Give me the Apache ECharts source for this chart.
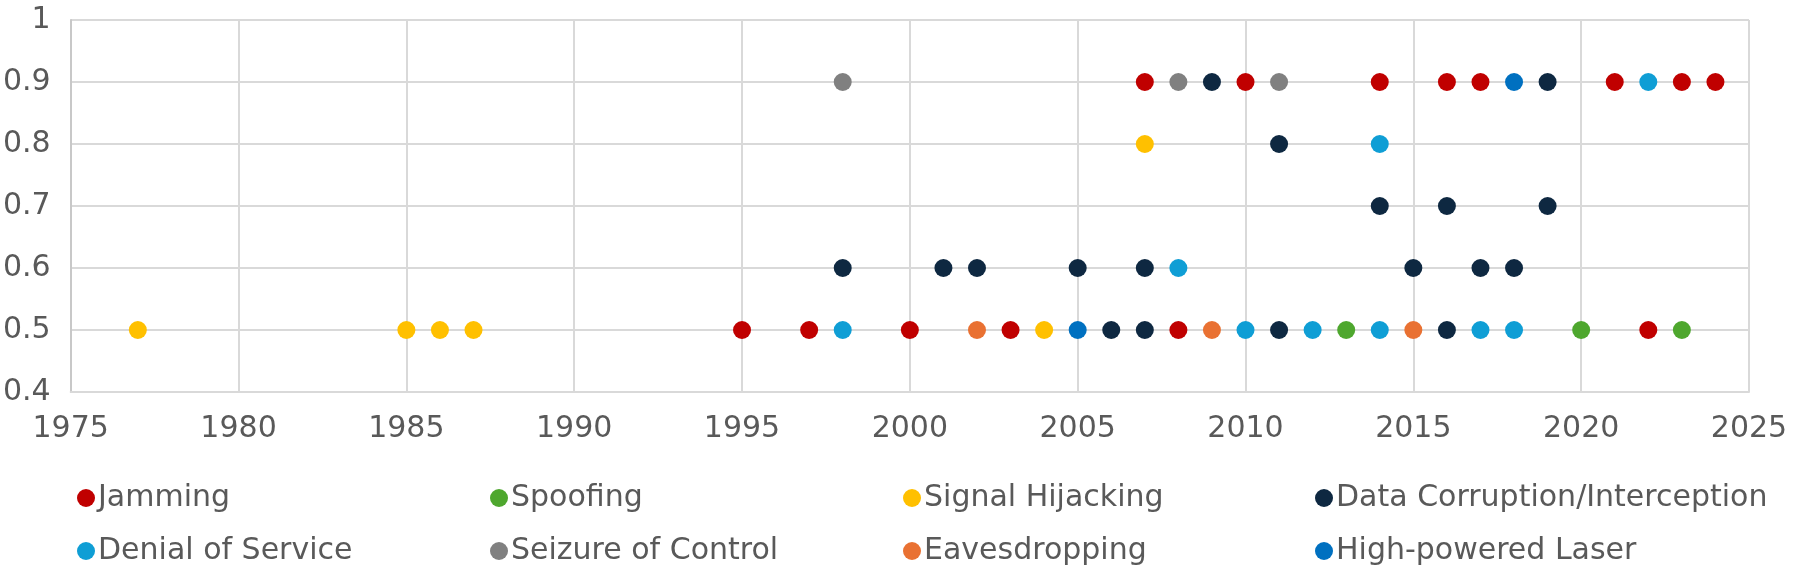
<!DOCTYPE html>
<html>
<head>
<meta charset="utf-8">
<script src="https://cdn.jsdelivr.net/npm/echarts@6/dist/echarts.min.js"></script>
<style>html,body{margin:0;padding:0;background:#fff;}#chart{width:1793px;height:575px;}</style>
</head>
<body>
<div id="chart"></div>
<script>
// Series names
const seriesNames = ["Jamming", "Spoofing", "Signal Hijacking", "Data Corruption/Interception",
  "Denial of Service", "Seizure of Control", "Eavesdropping", "High-powered Laser"];

// Jamming
const jammingYears  = [2007, 2010, 2014, 2016, 2017, 2021, 2023, 2024, 1995, 1997, 2000, 2003, 2008, 2022];
const jammingValues = [0.9, 0.9, 0.9, 0.9, 0.9, 0.9, 0.9, 0.9, 0.5, 0.5, 0.5, 0.5, 0.5, 0.5];
// Spoofing
const spoofingYears  = [2013, 2020, 2023];
const spoofingValues = [0.5, 0.5, 0.5];
// Signal Hijacking
const hijackYears  = [1977, 1985, 1986, 1987, 2004, 2007];
const hijackValues = [0.5, 0.5, 0.5, 0.5, 0.5, 0.8];
// Data Corruption/Interception
const dataYears  = [2009, 2019, 2011, 2014, 2016, 2019, 1998, 2001, 2002, 2005, 2007, 2015, 2017, 2018, 2006, 2007, 2011, 2016];
const dataValues = [0.9, 0.9, 0.8, 0.7, 0.7, 0.7, 0.6, 0.6, 0.6, 0.6, 0.6, 0.6, 0.6, 0.6, 0.5, 0.5, 0.5, 0.5];
// Denial of Service
const dosYears  = [2022, 2014, 2008, 1998, 2010, 2012, 2014, 2017, 2018];
const dosValues = [0.9, 0.8, 0.6, 0.5, 0.5, 0.5, 0.5, 0.5, 0.5];
// Seizure of Control
const seizureYears  = [1998, 2008, 2011];
const seizureValues = [0.9, 0.9, 0.9];
// Eavesdropping
const eavesYears  = [2002, 2009, 2015];
const eavesValues = [0.5, 0.5, 0.5];
// High-powered Laser
const laserYears  = [2018, 2005];
const laserValues = [0.9, 0.5];

const seriesYears  = [jammingYears, spoofingYears, hijackYears, dataYears, dosYears, seizureYears, eavesYears, laserYears];
const seriesValues = [jammingValues, spoofingValues, hijackValues, dataValues, dosValues, seizureValues, eavesValues, laserValues];
const colors = ["#C00000", "#4EA72E", "#FFC000", "#0E2841", "#0F9ED5", "#808080", "#E97132", "#0070C0"];

const textColor = "#595959";
const gridColor = "#D9D9D9";
const font = "DejaVu Sans";
const fs = 30;

const legendLefts = [77, 490, 903, 1315];
const legendTops = [483, 536];

const chart = echarts.init(document.getElementById('chart'), null, {renderer: 'canvas'});

const series = seriesNames.map((name, i) => ({
  name: name,
  type: 'scatter',
  symbol: 'circle',
  symbolSize: 18,
  itemStyle: {color: colors[i], opacity: 1},
  data: seriesYears[i].map((y, k) => [y, seriesValues[i][k]]),
  emphasis: {disabled: true}
}));

const legends = seriesNames.map((name, i) => ({
  data: [{name: name, icon: 'circle'}],
  left: legendLefts[i % 4],
  top: legendTops[Math.floor(i / 4)],
  padding: 0,
  itemWidth: 18,
  itemHeight: 18,
  itemGap: 0,
  selectedMode: false,
  textStyle: {color: textColor, fontSize: fs, fontFamily: font, lineHeight: 30, padding: [0, 0, 0, -2]}
}));

chart.setOption({
  animation: false,
  backgroundColor: '#fff',
  color: colors,
  grid: {left: 68, right: 44, top: 20, bottom: 183, containLabel: false},
  legend: legends,
  xAxis: {
    type: 'value', min: 1975, max: 2025, interval: 5,
    axisLine: {show: true, lineStyle: {color: gridColor, width: 2}},
    axisTick: {show: false},
    axisLabel: {color: textColor, fontSize: fs, fontFamily: font, margin: 22,
      formatter: v => String(v)},
    splitLine: {show: true, lineStyle: {color: gridColor, width: 2}}
  },
  yAxis: {
    type: 'value', min: 0.4, max: 1, interval: 0.1,
    axisLine: {show: true, lineStyle: {color: '#C8C8C8', width: 2}},
    axisTick: {show: false},
    axisLabel: {color: textColor, fontSize: fs, fontFamily: font, margin: 20,
      formatter: v => String(Math.round(v * 10) / 10)},
    splitLine: {show: true, lineStyle: {color: gridColor, width: 2}}
  },
  series: series
});
</script>
</body>
</html>
